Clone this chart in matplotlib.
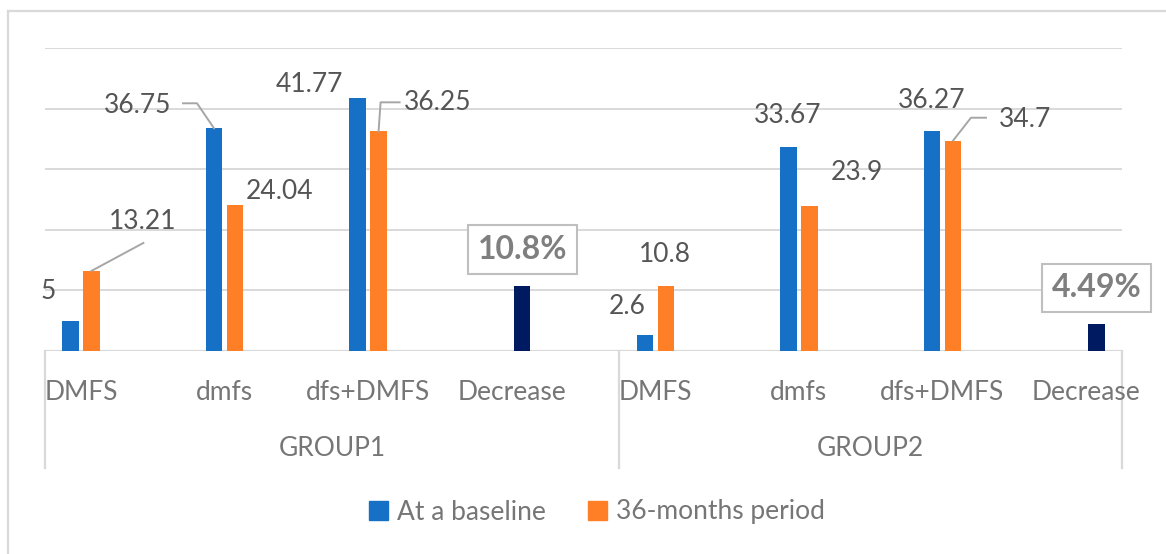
import numpy as np
import matplotlib
matplotlib.use("Agg")
import matplotlib.pyplot as plt
from matplotlib.patches import Patch
from matplotlib.lines import Line2D
import matplotlib.transforms as mtransforms

plt.rcParams['font.family'] = ['Lato', 'DejaVu Sans']

# ---- data ----
groups = ["GROUP1", "GROUP2"]
categories = ["DMFS", "dmfs", "dfs+DMFS", "Decrease", "DMFS", "dmfs", "dfs+DMFS", "Decrease"]
baseline = [5, 36.75, 41.77, 0, 2.6, 33.67, 36.27, 0]
months36 = [13.21, 24.04, 36.25, 0, 10.8, 23.9, 34.7, 0]
decrease = [0, 0, 0, 10.8, 0, 0, 0, 4.49]
decrease_labels = ["", "", "", "10.8%", "", "", "", "4.49%"]
series_names = ["At a baseline", "36-months period"]

# ---- style ----
C_BLUE = "#1570C6"
C_ORANGE = "#FF7F27"
C_NAVY = "#001A62"
C_GRID = "#D9D9D9"
C_LABEL = "#555555"
C_AXTXT = "#767676"
FS = 19

W, H = 1166, 554
fig = plt.figure(figsize=(W / 100, H / 100), dpi=100)
ax = fig.add_axes([45 / W, (H - 351) / H, 1077 / W, 303 / H])

x = np.arange(len(categories))
off = 0.073
bw = 0.115
ax.bar(x - off, baseline, bw, color=C_BLUE, zorder=3)
ax.bar(x + off, months36, bw, color=C_ORANGE, zorder=3)
ax.bar(x + off, decrease, bw, color=C_NAVY, zorder=3)

ax.set_xlim(-0.25, 7.25)
ax.set_ylim(0, 50)
ax.set_yticks(np.arange(0, 51, 10))
ax.yaxis.grid(True, color=C_GRID, lw=1.4, zorder=0)
ax.set_axisbelow(True)
for s in ax.spines.values():
    s.set_visible(False)
ax.tick_params(left=False, bottom=False, labelleft=False, labelbottom=False)
ax.axhline(0, color=C_GRID, lw=1.6, zorder=2)

# category and group labels
trans_x = mtransforms.blended_transform_factory(ax.transData, ax.transAxes)
for i, c in enumerate(categories):
    ax.annotate(c, xy=(i, 0), xycoords=trans_x, xytext=(0, -41), textcoords='offset pixels',
                ha='center', va='center', fontsize=FS, color=C_AXTXT, annotation_clip=False)
for xd in [-0.25, 3.75, 7.25]:
    ax.add_line(Line2D([xd, xd], [0, -117 / 303], transform=trans_x, color=C_GRID, lw=1.6, clip_on=False))
for gi, g in enumerate(groups):
    lo = -0.25 + gi * 4
    hi = min(lo + 4, 7.25)
    ax.annotate(g, xy=((lo + hi) / 2, 0), xycoords=trans_x, xytext=(0, -98), textcoords='offset pixels',
                ha='center', va='center', fontsize=FS, color=C_AXTXT, annotation_clip=False)

# data labels: pixel offsets from bar top (dx, dy up)
lab_base = [(-22, 29), (-76, 23), (-48, 13), None, (-18, 29), (-1, 31), (0, 31), None]
lab_m36 = [(51, 49), (45, 14), (59, 29), None, (-1, 31), (47, 34), (72, 21), None]
lead_base = {1: [(-31, 25), (-17, 25), (0, 0)]}
lead_m36 = {0: [(52, 28), (0, 0)], 2: [(0, 0), (2, 29), (21, 29)], 6: [(0, 0), (18, 23), (33, 23)]}

def fmt(v):
    return "%g" % v

def draw_leader(xd, yd, pts):
    a0 = ax.transData.transform((xd, yd))
    xs = [a0[0] + p[0] for p in pts]
    ys = [a0[1] + p[1] for p in pts]
    fig.add_artist(Line2D(xs, ys, transform=mtransforms.IdentityTransform(), color="#A6A6A6", lw=1.4))

for i in range(len(categories)):
    if lab_base[i] is not None:
        ax.annotate(fmt(baseline[i]), xy=(i - off, baseline[i]), xytext=lab_base[i], textcoords='offset pixels',
                    ha='center', va='center', fontsize=FS, color=C_LABEL, annotation_clip=False)
    if lab_m36[i] is not None:
        ax.annotate(fmt(months36[i]), xy=(i + off, months36[i]), xytext=lab_m36[i], textcoords='offset pixels',
                    ha='center', va='center', fontsize=FS, color=C_LABEL, annotation_clip=False)
    if i in lead_base:
        draw_leader(i - off, baseline[i], lead_base[i])
    if i in lead_m36:
        draw_leader(i + off, months36[i], lead_m36[i])
    if decrease_labels[i]:
        ax.annotate(decrease_labels[i], xy=(i + off, decrease[i]), xytext=(0, 36), textcoords='offset pixels',
                    ha='center', va='center', fontsize=23, fontweight='bold', color="#7F7F7F",
                    annotation_clip=False,
                    bbox=dict(boxstyle='square,pad=0.3', fc='white', ec="#BFBFBF", lw=1.5))

# legend
handles = [Patch(color=C_BLUE), Patch(color=C_ORANGE)]
leg = fig.legend(handles, series_names, loc='center', bbox_to_anchor=(597 / W, 1 - 512 / H),
                 ncol=2, frameon=False, fontsize=FS, handlelength=0.72, handleheight=0.72,
                 handletextpad=0.35, columnspacing=1.6)
for t in leg.get_texts():
    t.set_color(C_AXTXT)

# outer chart border (clipped by image edge)
fig.add_artist(Line2D([8 / W, 8 / W], [0, 1 - 11 / H], transform=fig.transFigure, color=C_GRID, lw=1.6))
fig.add_artist(Line2D([8 / W, 1], [1 - 11 / H, 1 - 11 / H], transform=fig.transFigure, color=C_GRID, lw=1.6))

fig.savefig("out.png", dpi=100, facecolor='white')
